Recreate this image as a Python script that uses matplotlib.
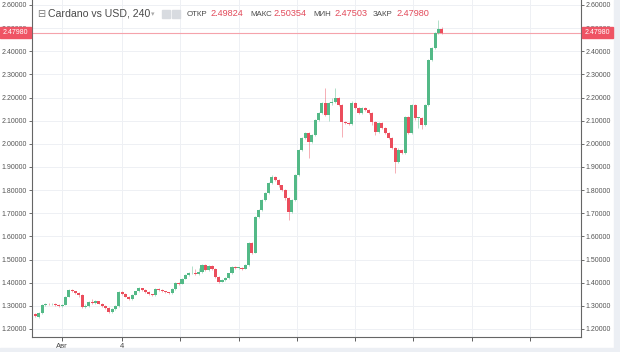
import matplotlib.pyplot as plt
from matplotlib.patches import Rectangle

# 4h candles, Cardano vs USD
opens = [1.263, 1.252, 1.268, 1.305, 1.310, 1.306, 1.309, 1.303, 1.299, 1.305,
         1.340, 1.368, 1.362, 1.356, 1.348, 1.296, 1.300, 1.315, 1.312, 1.320,
         1.310, 1.300, 1.292, 1.272, 1.285, 1.298, 1.360, 1.352, 1.340, 1.328,
         1.348, 1.362, 1.376, 1.370, 1.360, 1.350, 1.346, 1.372, 1.368, 1.362,
         1.358, 1.356, 1.372, 1.400, 1.396, 1.418, 1.432, 1.440, 1.442, 1.438,
         1.447, 1.476, 1.455, 1.472, 1.460, 1.426, 1.404, 1.412, 1.420, 1.440,
         1.468, 1.462, 1.464, 1.460, 1.475, 1.570, 1.530, 1.685, 1.714, 1.757,
         1.786, 1.829, 1.858, 1.845, 1.820, 1.800, 1.765, 1.707, 1.757, 1.865,
         1.973, 2.024, 2.046, 2.009, 2.038, 2.103, 2.132, 2.175, 2.125, 2.175,
         2.182, 2.197, 2.168, 2.096, 2.089, 2.086, 2.178, 2.154, 2.132, 2.154,
         2.146, 2.132, 2.096, 2.052, 2.089, 2.067, 2.046, 2.024, 1.981, 1.923,
         1.975, 1.960, 2.117, 2.046, 2.168, 2.110, 2.112, 2.081, 2.168, 2.362,
         2.413, 2.478, 2.49824]
closes = [1.255, 1.268, 1.305, 1.310, 1.306, 1.309, 1.303, 1.299, 1.305, 1.340,
          1.368, 1.362, 1.356, 1.348, 1.296, 1.300, 1.315, 1.312, 1.320, 1.310,
          1.300, 1.292, 1.272, 1.285, 1.298, 1.360, 1.352, 1.340, 1.328, 1.348,
          1.362, 1.376, 1.370, 1.360, 1.350, 1.346, 1.372, 1.368, 1.362, 1.358,
          1.356, 1.372, 1.400, 1.396, 1.418, 1.432, 1.440, 1.442, 1.438, 1.447,
          1.476, 1.455, 1.472, 1.460, 1.426, 1.404, 1.412, 1.420, 1.440, 1.468,
          1.462, 1.464, 1.460, 1.475, 1.570, 1.530, 1.685, 1.714, 1.757, 1.786,
          1.829, 1.858, 1.845, 1.820, 1.800, 1.765, 1.707, 1.757, 1.865, 1.973,
          2.024, 2.046, 2.009, 2.038, 2.103, 2.132, 2.175, 2.125, 2.175, 2.182,
          2.197, 2.168, 2.096, 2.089, 2.086, 2.178, 2.154, 2.132, 2.154, 2.146,
          2.132, 2.096, 2.052, 2.089, 2.067, 2.046, 2.024, 1.981, 1.923, 1.975,
          1.960, 2.117, 2.046, 2.168, 2.110, 2.112, 2.081, 2.168, 2.362, 2.413,
          2.478, 2.498, 2.47980]
highs = [1.268, 1.272, 1.310, 1.314, 1.313, 1.313, 1.312, 1.306, 1.309, 1.344,
         1.372, 1.371, 1.366, 1.360, 1.352, 1.306, 1.322, 1.330, 1.326, 1.323,
         1.314, 1.304, 1.295, 1.289, 1.302, 1.364, 1.364, 1.355, 1.344, 1.352,
         1.366, 1.380, 1.379, 1.373, 1.363, 1.353, 1.376, 1.375, 1.371, 1.365,
         1.361, 1.376, 1.404, 1.404, 1.422, 1.436, 1.445, 1.472, 1.460, 1.465,
         1.480, 1.479, 1.476, 1.475, 1.463, 1.429, 1.416, 1.424, 1.444, 1.472,
         1.471, 1.468, 1.467, 1.479, 1.575, 1.574, 1.690, 1.719, 1.762, 1.791,
         1.834, 1.866, 1.862, 1.850, 1.824, 1.805, 1.770, 1.762, 1.870, 1.978,
         2.029, 2.051, 2.050, 2.043, 2.108, 2.137, 2.180, 2.240, 2.180, 2.200,
         2.240, 2.202, 2.172, 2.100, 2.093, 2.183, 2.182, 2.158, 2.159, 2.158,
         2.150, 2.136, 2.100, 2.094, 2.093, 2.071, 2.050, 2.028, 1.985, 1.980,
         1.979, 2.122, 2.121, 2.173, 2.172, 2.117, 2.116, 2.173, 2.367, 2.418,
         2.483, 2.535, 2.50354]
lows = [1.250, 1.248, 1.265, 1.301, 1.302, 1.303, 1.300, 1.295, 1.296, 1.302,
        1.336, 1.358, 1.352, 1.340, 1.290, 1.292, 1.297, 1.308, 1.309, 1.306,
        1.296, 1.288, 1.268, 1.269, 1.282, 1.295, 1.348, 1.336, 1.324, 1.325,
        1.345, 1.359, 1.366, 1.356, 1.346, 1.342, 1.343, 1.364, 1.358, 1.354,
        1.352, 1.353, 1.369, 1.392, 1.393, 1.415, 1.428, 1.436, 1.432, 1.434,
        1.444, 1.450, 1.452, 1.456, 1.422, 1.400, 1.401, 1.409, 1.417, 1.437,
        1.458, 1.458, 1.456, 1.457, 1.472, 1.525, 1.527, 1.681, 1.710, 1.753,
        1.782, 1.825, 1.840, 1.815, 1.795, 1.758, 1.671, 1.702, 1.752, 1.860,
        1.968, 2.019, 1.937, 2.004, 2.033, 2.098, 2.127, 2.120, 2.100, 2.170,
        2.177, 2.163, 2.031, 2.084, 2.081, 2.081, 2.149, 2.127, 2.128, 2.141,
        2.127, 2.080, 2.040, 2.048, 2.062, 2.041, 2.019, 1.976, 1.873, 1.918,
        1.955, 1.955, 2.041, 2.041, 2.105, 2.070, 2.062, 2.076, 2.163, 2.357,
        2.408, 2.473, 2.47503]

price_ticks = [1.2, 1.3, 1.4, 1.5, 1.6, 1.7, 1.8, 1.9, 2.0, 2.1, 2.2, 2.3, 2.4, 2.5, 2.6]
date_ticks = [8, 26, 43.5, 61, 78.5, 96, 113.5, 131, 148.5]
date_labels = ['Авг', '4', '', '', '', '', '', '', '']
last_price = 2.47980
header_fields = [('ОТКР', '2.49824'), ('МАКС', '2.50354'),
                 ('МИН', '2.47503'), ('ЗАКР', '2.47980')]

UP = '#53b987'
DOWN = '#eb4d5c'
W, H = 620, 352

plt.rcParams['font.family'] = ['Liberation Sans', 'DejaVu Sans']

fig = plt.figure(figsize=(W / 100, H / 100), dpi=100)
ax = fig.add_axes([32 / W, 15 / H, 549 / W, 337 / H])

for i in range(len(opens)):
    o, c = opens[i], closes[i]
    col = UP if c >= o else DOWN
    ax.vlines(i, lows[i], highs[i], color=col, alpha=0.45, lw=0.7, zorder=2)
    body = max(abs(c - o), 0.004)
    ax.bar(i, body, bottom=min(o, c), width=0.92, color=col, lw=0, zorder=3)

ax.axhline(last_price, color='#f5a3ab', lw=0.8, zorder=1)

ax.set_xlim(-1.05, 163.8)
ax.set_ylim(1.1653, 2.6216)
ax.set_yticks(price_ticks)
ax.set_yticklabels(['%.5f' % p for p in price_ticks])
ax.set_xticks(date_ticks)
ax.set_xticklabels(date_labels)
ax.grid(True, color='#eef0f4', lw=0.7, zorder=0)
ax.set_axisbelow(True)

ax.tick_params(axis='y', left=True, right=True, labelleft=True, labelright=True,
               length=2, width=0.6, pad=1.5, labelsize=5, colors='#555555')
ax.tick_params(axis='x', length=3, width=0.6, pad=1.5, labelsize=5.5, colors='#444444')
ax.spines['top'].set_visible(False)
for s in ['left', 'right', 'bottom']:
    ax.spines[s].set_color('#666666')
    ax.spines[s].set_linewidth(0.8)

# price labels on both scales
fig.patches.append(Rectangle((0, 1 - 38 / H), 31 / W, 11 / H, transform=fig.transFigure,
                             color='#ef5464', zorder=5))
fig.patches.append(Rectangle((582 / W, 1 - 38 / H), 31 / W, 11 / H, transform=fig.transFigure,
                             color='#ef5464', zorder=5))
fig.text(15.5 / W, 1 - 32.5 / H, '%.5f' % last_price, color='white', fontsize=5,
         ha='center', va='center', zorder=6)
fig.text(597.5 / W, 1 - 32.5 / H, '%.5f' % last_price, color='white', fontsize=5,
         ha='center', va='center', zorder=6)

# bands at the bottom and right edge
fig.patches.append(Rectangle((0, 0), 1, 4 / H, transform=fig.transFigure,
                             color='#eceff4', zorder=0))
fig.patches.append(Rectangle((614 / W, 0), 6 / W, 1, transform=fig.transFigure,
                             color='#eceff4', zorder=0))

# header
hy = 1 - 14 / H
fig.text(37 / W, hy, '⊟', color='#777777', fontsize=7, va='center', family='DejaVu Sans')
fig.text(48 / W, hy, 'Cardano vs USD, 240', color='#4a4a4a', fontsize=7.6, va='center')
fig.text(151 / W, hy, '▾', color='#aaaaaa', fontsize=5, va='center', family='DejaVu Sans')
fig.patches.append(Rectangle((162 / W, hy - 4 / H), 8 / W, 8 / H, transform=fig.transFigure,
                             color='#d8dbe0', zorder=5))
fig.patches.append(Rectangle((172 / W, hy - 4 / H), 8 / W, 8 / H, transform=fig.transFigure,
                             color='#d8dbe0', zorder=5))
label_x = [187, 250, 313, 373]
value_x = [210, 273, 334, 396]
for (name, val), lx, vx in zip(header_fields, label_x, value_x):
    fig.text(lx / W, hy, name, color='#4a4a4a', fontsize=5.7, va='center')
    fig.text(vx / W, hy, val, color='#e24a5a', fontsize=6.6, va='center')

fig.savefig('out.png', dpi=100)
